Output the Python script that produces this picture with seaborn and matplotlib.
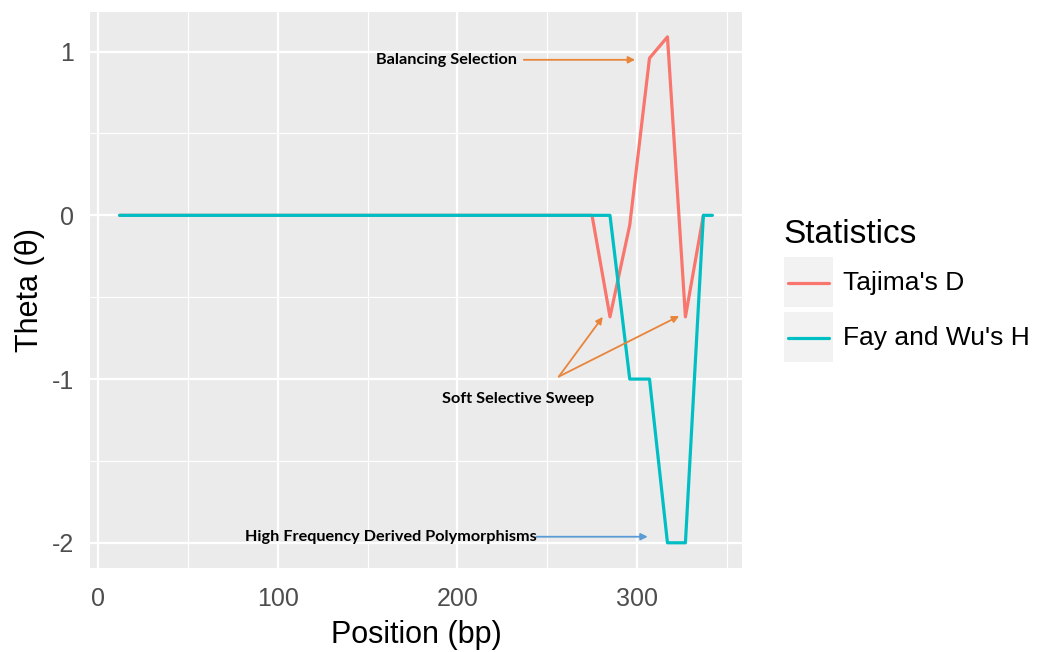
import numpy as np
import pandas as pd
import matplotlib
matplotlib.use("Agg")
import matplotlib.pyplot as plt
import seaborn as sns
from matplotlib.lines import Line2D
from matplotlib.patches import Rectangle

# ---- data ----
tajima_pos = [12, 275, 285, 296, 307, 317, 327, 337]
tajima_val = [0.0, 0.0, -0.62, -0.06, 0.96, 1.09, -0.62, 0.0]
faywu_pos = [12, 285, 296, 307, 317, 327, 337, 342]
faywu_val = [0.0, 0.0, -1.0, -1.0, -2.0, -2.0, 0.0, 0.0]
series_names = ["Tajima's D", "Fay and Wu's H"]
series_colors = ["#F8766D", "#00BFC4"]
x_ticks = [0, 100, 200, 300]
y_ticks = [-2, -1, 0, 1]

df = pd.DataFrame({
    "Position": tajima_pos + faywu_pos,
    "Theta": tajima_val + faywu_val,
    "Statistics": [series_names[0]] * len(tajima_pos) + [series_names[1]] * len(faywu_pos),
})

sns.set_theme(style="darkgrid")
plt.rcParams['font.family'] = ['Liberation Sans', 'DejaVu Sans']
plt.rcParams['axes.unicode_minus'] = False

W, H = 1038, 652
fig = plt.figure(figsize=(W / 100, H / 100), dpi=100)
ax = fig.add_axes([90 / W, 1 - 568 / H, (742 - 90) / W, (568 - 12) / H])
ax.set_facecolor("#EBEBEB")

sns.lineplot(data=df, x="Position", y="Theta", hue="Statistics",
             hue_order=series_names, palette=series_colors,
             sort=False, estimator=None, linewidth=2.3, ax=ax, legend=False)

ax.set_xlim(-4.5, 358.5)
ax.set_ylim(-2.154, 1.242)
ax.set_xticks(x_ticks)
ax.set_yticks(y_ticks)
ax.set_xticks([50, 150, 250, 350], minor=True)
ax.set_yticks([-1.5, -0.5, 0.5], minor=True)
ax.grid(which="major", color="white", linewidth=1.6)
ax.grid(which="minor", color="white", linewidth=0.8)
ax.set_axisbelow(True)
for s in ax.spines.values():
    s.set_visible(False)
ax.tick_params(axis="both", which="major", length=5.5, width=1.4, color="#333333",
               labelsize=18, labelcolor="#4D4D4D")
ax.tick_params(axis="x", which="major", pad=8)
ax.tick_params(axis="y", which="major", pad=6)
ax.tick_params(axis="both", which="minor", length=0)
ax.set_xlabel("Position (bp)", fontsize=22, color="black", labelpad=7)
ax.set_ylabel("Theta (\u03b8)", fontsize=22, color="black")
ax.yaxis.set_label_coords(-0.069, 0.5)

# annotations
ann_font = dict(family=["Lato", "DejaVu Sans"], fontweight="bold", fontsize=11.7, color="black")
orange = "#E8853A"
blue = "#5B9BD5"
ax.annotate("", xy=(299, 0.95), xytext=(237, 0.95),
            arrowprops=dict(arrowstyle="-|>", color=orange, lw=1.3, mutation_scale=10,
                            shrinkA=0, shrinkB=0))
ax.text(233, 0.95, "Balancing Selection", ha="right", va="center", **ann_font)

for tip in [(281, -0.62), (323.5, -0.615)]:
    ax.annotate("", xy=tip, xytext=(256.5, -0.985),
                arrowprops=dict(arrowstyle="-|>", color=orange, lw=1.3, mutation_scale=10,
                                shrinkA=0, shrinkB=0))
ax.text(234, -1.12, "Soft Selective Sweep", ha="center", va="center", **ann_font)

ax.annotate("", xy=(306, -1.963), xytext=(244, -1.963),
            arrowprops=dict(arrowstyle="-|>", color=blue, lw=1.3, mutation_scale=10,
                            shrinkA=0, shrinkB=0))
ax.text(244, -1.963, "High Frequency Derived Polymorphisms", ha="right", va="center", **ann_font)

# legend (ggplot style, keys with grey boxes)
def fx(x):
    return x / W

def fy(y):
    return 1 - y / H

fig.text(fx(783), fy(243), "Statistics", fontsize=24, color="black", ha="left", va="baseline")
key_tops = [257, 312]
for name, col, top in zip(series_names, series_colors, key_tops):
    fig.add_artist(Rectangle((fx(784), fy(top + 50)), fx(49), 50 / H,
                             transform=fig.transFigure, facecolor="#F2F2F2", edgecolor="none"))
    yc = top + 26
    fig.add_artist(Line2D([fx(788), fx(829)], [fy(yc), fy(yc)], color=col, lw=2.3,
                          transform=fig.transFigure))
    fig.text(fx(843), fy(yc), name, fontsize=19, color="black", ha="left", va="center")

fig.savefig("out.png", dpi=100)
